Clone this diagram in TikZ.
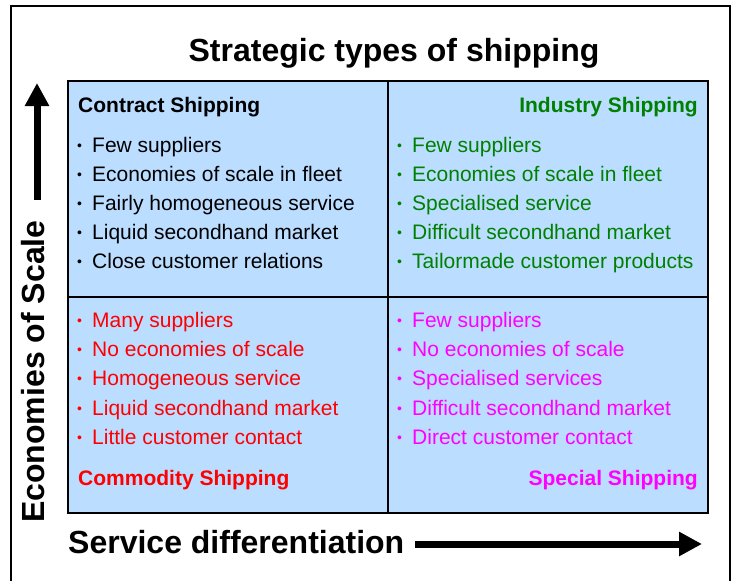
\documentclass[tikz,border=0pt]{standalone}
\usepackage{fontspec}
\setmainfont{Liberation Sans}
\usetikzlibrary{arrows.meta}
\definecolor{cellblue}{RGB}{187,221,255}
\definecolor{indgreen}{RGB}{0,128,0}
\definecolor{commred}{RGB}{255,0,0}
\definecolor{specmag}{RGB}{255,0,255}
\newcommand{\bl}{\makebox[15pt][l]{\raisebox{1.8pt}{\fontsize{14}{14}\selectfont•}}}

\begin{document}
\begin{tikzpicture}[x=1pt,y=-1pt,
  item/.style={anchor=base west,inner sep=0pt,font=\fontsize{21}{25}\selectfont},
  head/.style={inner sep=0pt,font=\fontsize{21}{25}\selectfont\bfseries},
  axis/.style={inner sep=0pt,font=\fontsize{32}{38}\selectfont\bfseries},
  axisarrow/.style={line width=7pt,-{Triangle[length=23pt,width=23pt]}}]
\useasboundingbox (0,0) rectangle (734,581);
\draw[line width=2pt] (11,581) -- (11,6) -- (730,6) -- (730,581);

\node[axis,anchor=base] (title) at (394,61) {Strategic types of shipping};

\draw[fill=cellblue,line width=1.5pt] (68,81) rectangle (708,513);
\draw[line width=1.5pt] (388,81) -- (388,513);
\draw[line width=1.5pt] (68,297) -- (708,297);

% contract shipping
\node[head,anchor=base west] (tlhead) at (78,112) {Contract Shipping};
\node[item] (tl1) at (77,152) {\bl Few suppliers};
\node[item] (tl2) at (77,181) {\bl Economies of scale in fleet};
\node[item] (tl3) at (77,210) {\bl Fairly homogeneous service};
\node[item] (tl4) at (77,239) {\bl Liquid secondhand market};
\node[item] (tl5) at (77,268) {\bl Close customer relations};

% industry shipping
\node[head,anchor=base east,text=indgreen] (trhead) at (698,112) {Industry Shipping};
\node[item,text=indgreen] (tr1) at (397,152) {\bl Few suppliers};
\node[item,text=indgreen] (tr2) at (397,181) {\bl Economies of scale in fleet};
\node[item,text=indgreen] (tr3) at (397,210) {\bl Specialised service};
\node[item,text=indgreen] (tr4) at (397,239) {\bl Difficult secondhand market};
\node[item,text=indgreen] (tr5) at (397,268) {\bl Tailormade customer products};

% commodity shipping
\node[item,text=commred] (bl1) at (77,327) {\bl Many suppliers};
\node[item,text=commred] (bl2) at (77,356) {\bl No economies of scale};
\node[item,text=commred] (bl3) at (77,385) {\bl Homogeneous service};
\node[item,text=commred] (bl4) at (77,415) {\bl Liquid secondhand market};
\node[item,text=commred] (bl5) at (77,444) {\bl Little customer contact};
\node[head,anchor=base west,text=commred] (blhead) at (78,485) {Commodity Shipping};

% special shipping
\node[item,text=specmag] (br1) at (397,327) {\bl Few suppliers};
\node[item,text=specmag] (br2) at (397,356) {\bl No economies of scale};
\node[item,text=specmag] (br3) at (397,385) {\bl Specialised services};
\node[item,text=specmag] (br4) at (397,415) {\bl Difficult secondhand market};
\node[item,text=specmag] (br5) at (397,444) {\bl Direct customer contact};
\node[head,anchor=base east,text=specmag] (brhead) at (698,485) {Special Shipping};

% axes
\node[axis,anchor=base west] (xlabel) at (68,553) {Service differentiation};
\node[axis,anchor=base west,rotate=90] (ylabel) at (45,523) {Economies of Scale};
\coordinate (xtail) at (415,544);
\coordinate (xtip) at (702,544);
\coordinate (ytail) at (37,200);
\coordinate (ytip) at (37,83);
\draw[axisarrow] (xtail) -- (xtip);
\draw[axisarrow] (ytail) -- (ytip);
\end{tikzpicture}
\end{document}
